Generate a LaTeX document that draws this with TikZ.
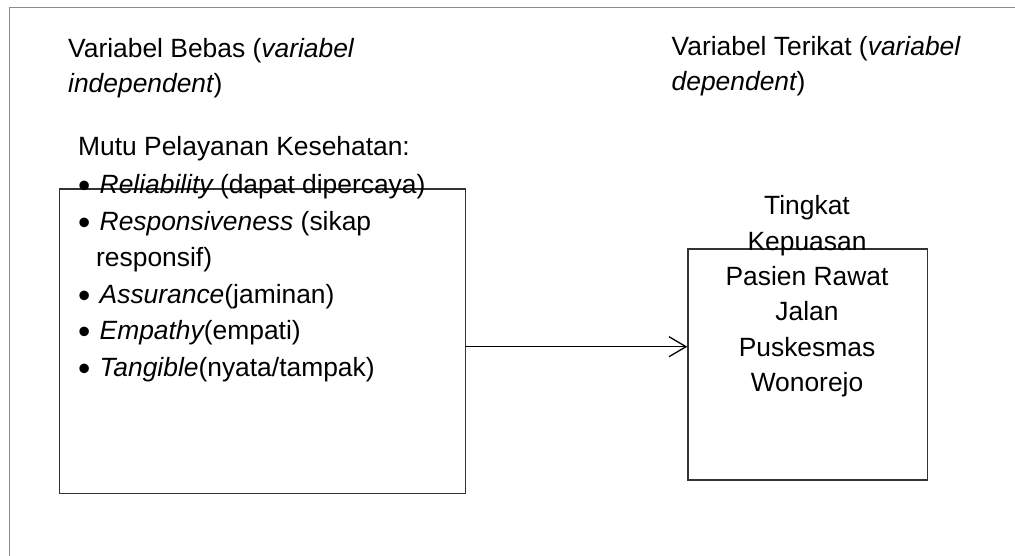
\documentclass[tikz,border=0pt]{standalone}
\usepackage{fontspec}
\setmainfont{Liberation Sans}
\usetikzlibrary{arrows.meta}
\newcommand{\bulletmark}{\makebox[20.5pt][l]{\hspace*{-1pt}\raisebox{-4pt}{\fontsize{35}{35}\selectfont •}}}
\begin{document}
\begin{tikzpicture}[x=1pt,y=-1pt,
  frameline/.style={draw=black!45, line width=1.1pt},
  boxstyle/.style={draw=black!80, line width=1.4pt, anchor=north west, inner sep=0pt},
  txt/.style={inner sep=0pt, font=\fontsize{26.4}{35.4}\selectfont},
  listtxt/.style={inner sep=0pt, align=left, font=\fontsize{26.4}{36.6}\selectfont},
  arrowline/.style={draw=black, line width=1.3pt, -{Straight Barb[length=17pt,width=20pt]}}]
\useasboundingbox (0,0) rectangle (1015,556);
% outer frame (top and left edges)
\coordinate (fa) at (9.7,556);
\coordinate (fb) at (9.7,7.3);
\coordinate (fc) at (1015,7.3);
\draw[frameline] (fa) -- (fb) -- (fc);
% boxes
\node[boxstyle, minimum width=406pt, minimum height=304.5pt] (lbox) at (59,188.5) {};
\node[boxstyle, minimum width=239.4pt, minimum height=231pt] (rbox) at (687.3,248.3) {};
% headings (base anchor = baseline of last line)
\node[txt, align=left, anchor=base west] (hleft) at (68,92.7) {Variabel Bebas ({\itshape variabel}\\{\itshape independent})};
\node[txt, align=left, anchor=base west] (hright) at (671.5,91) {Variabel Terikat ({\itshape variabel}\\{\itshape dependent})};
% left content
\node[txt, anchor=base west] (mutu) at (78,156) {Mutu Pelayanan Kesehatan:};
\node[listtxt, anchor=base west] (list) at (79,376.5) {%
\bulletmark{\itshape Reliability} (dapat dipercaya)\\
\bulletmark{\itshape Responsiveness} (sikap\\
\hspace*{17pt}responsif)\\
\bulletmark{\itshape Assurance}(jaminan)\\
\bulletmark{\itshape Empathy}(empati)\\
\bulletmark{\itshape Tangible}(nyata/tampak)};
% right content
\node[txt, align=center, anchor=base] (rtext) at (807,391.7) {Tingkat\\Kepuasan\\Pasien Rawat\\Jalan\\Puskesmas\\Wonorejo};
% connector
\coordinate (ay) at (0,346.7);
\draw[arrowline] (lbox.east |- ay) -- (rbox.west |- ay);
\end{tikzpicture}
\end{document}
